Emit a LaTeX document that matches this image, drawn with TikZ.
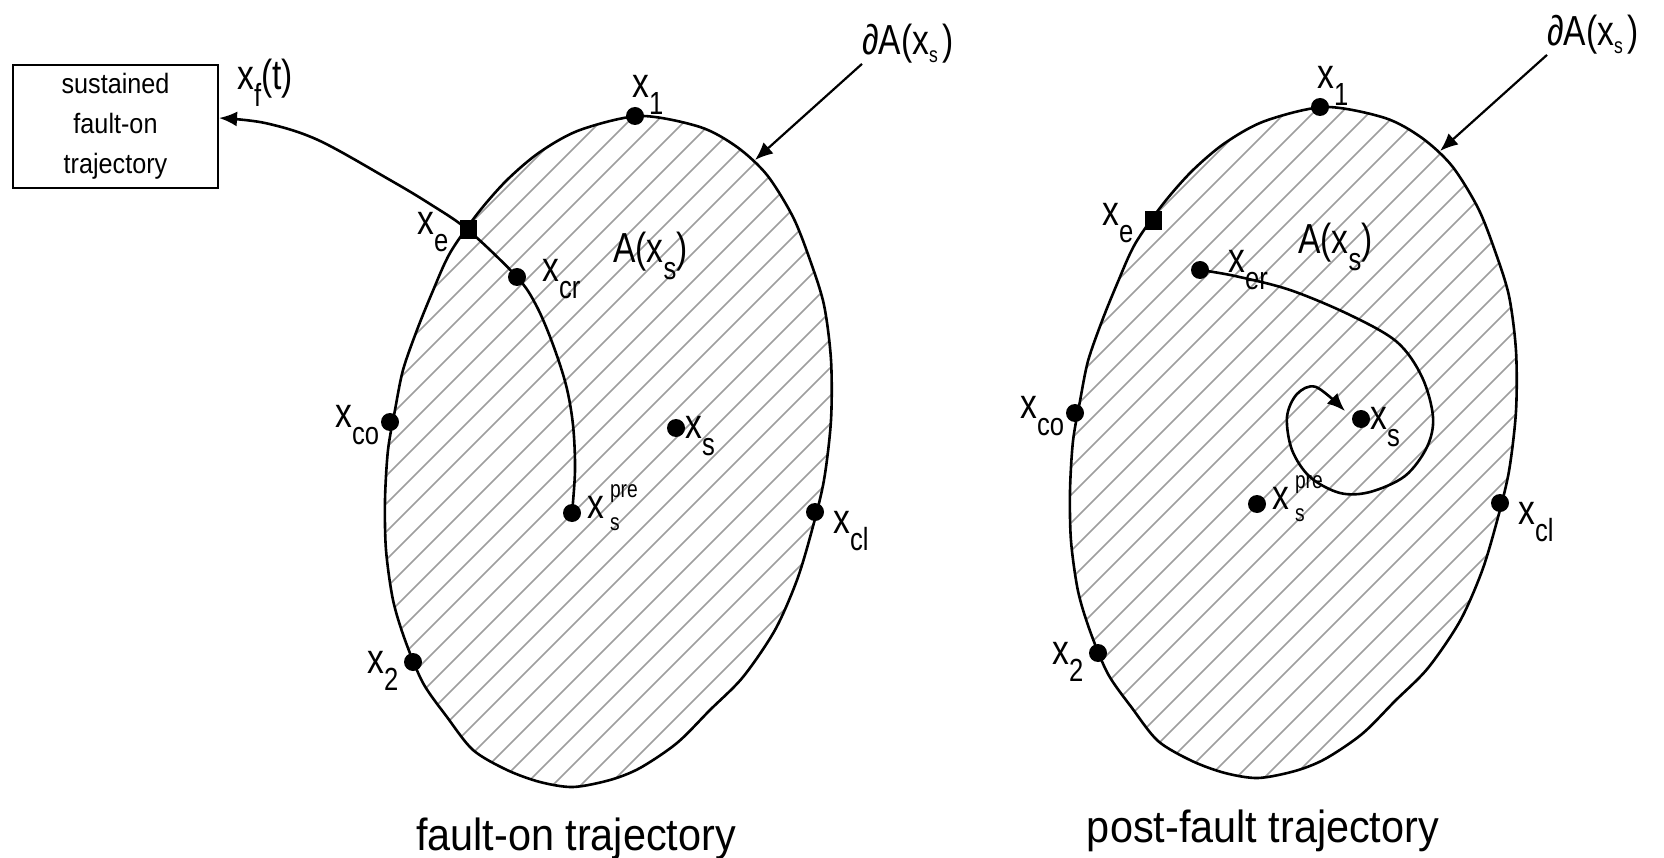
\documentclass[tikz,border=0pt]{standalone}
\usepackage{fontspec}
\setmainfont{Liberation Sans}
\newfontfamily\labfont{Liberation Sans}[FakeStretch=0.8]
\newfontfamily\capfont{Liberation Sans}[FakeStretch=0.92]
\newfontfamily\boxfont{Liberation Sans}[FakeStretch=0.9]
\usetikzlibrary{arrows.meta}
\newcommand{\sbx}[1]{\raisebox{-17pt}{\fontsize{32}{32}\selectfont #1}}
\newcommand{\presub}{\hspace{6pt}\rlap{\raisebox{21pt}{\fontsize{24}{24}\selectfont pre}}\raisebox{-12pt}{\fontsize{24}{24}\selectfont s}}
\newcommand{\eggplot}[1]{\path[#1] plot[smooth cycle, tension=0.5] coordinates {(640,116) (700,127) (737,147) (767,175) (793,217) (810,260) (824,305) (831,360) (831,420) (824,480) (812,530) (797,580) (775,630) (743,677) (710,710) (677,743) (640,768) (610,780) (573,787) (540,782) (507,770) (473,750) (447,717) (423,683) (405,640) (393,600) (386,550) (385,500) (388,450) (395,410) (403,370) (417,330) (432,293) (450,253) (478,213) (507,180) (540,152) (580,130)};}
\tikzset{
 eggline/.style={draw=black, line width=2.6pt},
 hatchln/.style={draw=black!38, line width=1.7pt},
 trajline/.style={draw=black, line width=2.6pt},
 bdot/.style={circle, fill=black, inner sep=0pt, minimum size=18pt},
 sqdot/.style={rectangle, fill=black, inner sep=0pt, minimum width=17pt, minimum height=19pt},
 lbl/.style={anchor=base west, inner sep=0pt, font=\labfont\fontsize{42}{42}\selectfont},
 captext/.style={anchor=base, inner sep=0pt, font=\capfont\fontsize{45}{45}\selectfont},
 arrowtip/.style={-{Latex[length=18pt,width=15pt]}},
}
\begin{document}
\begin{tikzpicture}[x=1pt,y=-1pt]
\fill[white] (0,0) rectangle (1664,858);
\useasboundingbox (0,0) rectangle (1664,858);
\foreach \dx/\dy/\s in {0/0/L,685/-9/R}{
\begin{scope}[shift={(\dx,\dy)}]
 \begin{scope}
  \eggplot{clip}
  \foreach \k in {470,498,...,1700} \draw[hatchln] (\k-850,850) -- (\k-50,50);
 \end{scope}
 \eggplot{eggline}
 \node[bdot] (x1\s) at (635,116) {};
 \node[sqdot] (xe\s) at (468,230) {};
 \node[bdot] (xco\s) at (390,422) {};
 \node[bdot] (x2\s) at (413,662) {};
 \node[bdot] (xcl\s) at (815,512) {};
 \node[bdot] (xs\s) at (676,428) {};
 \node[bdot] (xspre\s) at (572,513) {};
 \node[lbl] (lx1\s) at (632,98) {x\sbx{1}};
 \node[lbl] (lxe\s) at (417,235) {x\sbx{e}};
 \node[lbl] (lxco\s) at (335,427) {x\sbx{co}};
 \node[lbl] (lx2\s) at (367,673) {x\sbx{2}};
 \node[lbl] (lxcl\s) at (833,533) {x\sbx{cl}};
 \node[lbl] (lA\s) at (613,263) {A(x\sbx{s})};
 \node[lbl] (lxs\s) at (685,438) {x\sbx{s}};
 \node[lbl] (lxp\s) at (587,518) {x\presub};
 \node[lbl] (ldA\s) at (862,55) {∂A(x\raisebox{-8pt}{\fontsize{22}{22}\selectfont s}\hspace{4pt})};
 \coordinate (dAtip\s) at (755,160);
 \draw[trajline, line width=2.2pt, arrowtip] (ldA\s.south west) -- (dAtip\s);
\end{scope}
}
% left panel: fault-on trajectory
\node[draw, line width=2.6pt, minimum width=205pt, minimum height=123pt, inner sep=0pt, align=center, font=\boxfont\fontsize{28}{40}\selectfont] (box) at (115.5,126.5) {sustained\\fault-on\\trajectory};
\node[bdot] (xcrL) at (517,277) {};
\node[lbl] (lxcr) at (542,282) {x\sbx{cr}};
\node[lbl] (lxf) at (237,90) {x\sbx{f}(t)};
\coordinate (xf) at (219,118);
\draw[trajline, arrowtip] plot[smooth, tension=0.55] coordinates {(xspreL.center) (575,470) (573,425) (566,385) (552,342) (536,305) (xcrL.center) (xeL.center) (430,204) (390,180) (318,140) (265,123) (xf)};
% right panel: post-fault trajectory
\node[bdot] (xerR) at (1200,270) {};
\node[lbl] (lxer) at (1228,273) {x\sbx{er}};
\coordinate (sptip) at (1345,411);
\draw[trajline, arrowtip] plot[smooth, tension=0.55] coordinates {(xerR.center) (1235,276) (1290,290) (1350,315) (1397,342) (1422,377) (1433,417) (1427,447) (1405,476) (1370,492) (1340,493) (1310,477) (1292,450) (1287,417) (1297,394) (1316,387) (sptip)};
\node[captext] (capL) at (576,850) {fault-on trajectory};
\node[captext] (capR) at (1263,842) {post-fault trajectory};
\end{tikzpicture}
\end{document}
